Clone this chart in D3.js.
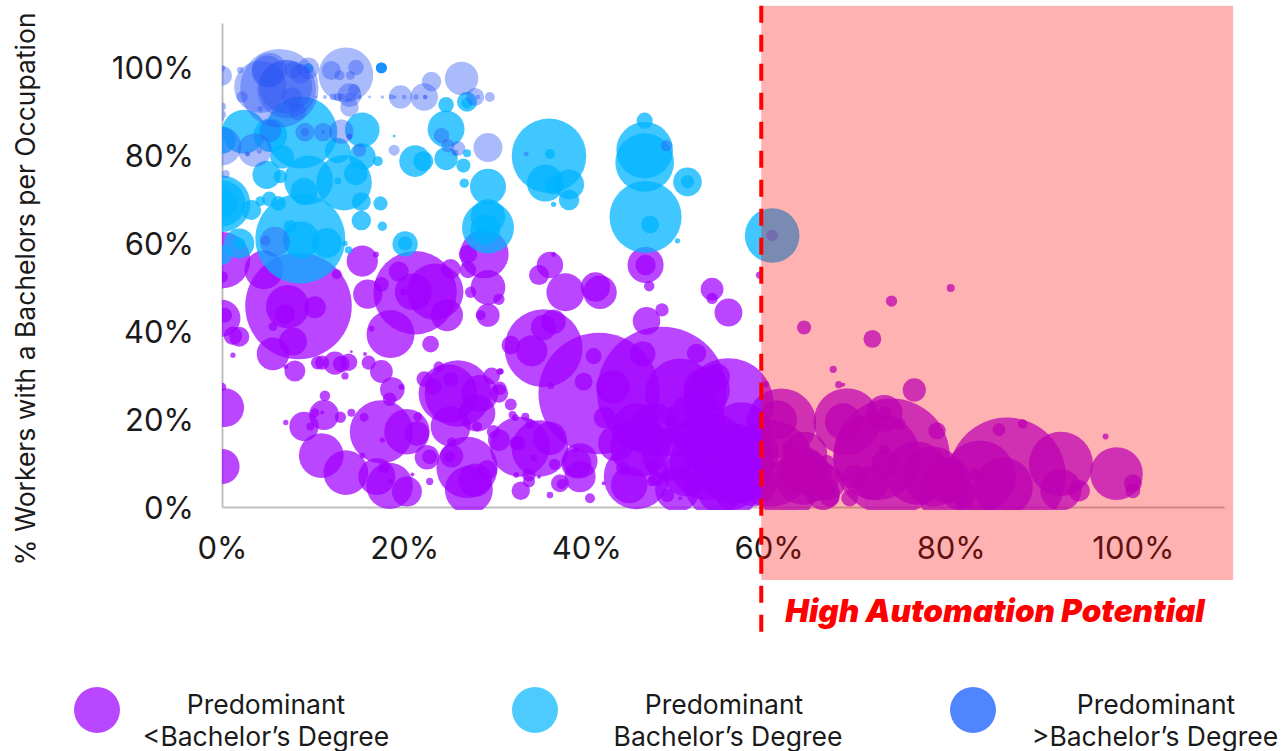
<!DOCTYPE html>
<html>
<head>
<meta charset="utf-8">
<script src="https://cdn.jsdelivr.net/npm/d3@7"></script>
<style>
  html, body { margin: 0; padding: 0; background: #fff; }
  svg { display: block; }
  text { font-family: Inter, "Noto Sans", sans-serif; fill: #1a1a1a; }
  .domain { stroke: #bfbfbf; stroke-width: 2px; }
  .tick text { font-size: 31px; }
</style>
</head>
<body>
<div id="chart"></div>
<script>
var xTicks = [0, 20, 40, 60, 80, 100];
var yTicks = [0, 20, 40, 60, 80, 100];
var yTitle = "% Workers with a Bachelors per Occupation";
var noteLabel = "High Automation Potential";
var legendLabels = [
  ["Predominant", "<Bachelor\u2019s Degree"],
  ["Predominant", "Bachelor\u2019s Degree"],
  ["Predominant", ">Bachelor\u2019s Degree"]
];

// [automation %, bachelors %, workers]
var lessThanBachelors = [
  [8.4,45.7,2840],[7.2,45.5,470],[6.9,43.8,100],[10.2,45.4,120],[7.8,37.6,195],[5.6,34.8,265],[5.6,41,20],[4.6,53.9,375],
  [0,56.1,800],[0,52.3,36],[0,42.9,340],[0.3,43.6,55],[1.2,38.9,85],[1.9,38.7,100],[1.2,34.5,7],[0,27.3,18],[0.3,22.6,375],[0,9.2,310],
  [15.4,55.9,245],[16.9,57.4,9],[12.6,52.9,25],[16,48.4,215],[17.5,50.6,55],[21.2,48.7,1740],[23.4,48.9,800],[21,48.9,340],[19.4,53.5,100],
  [25.1,54.1,100],[24.7,43.6,255],[18.5,39.3,575],[16.4,40.5,9],[19.9,48.8,11],[22.9,37,70],[27,53.9,70],[29.2,49.9,300],[28.8,57.5,590],
  [27,57.5,85],[27.3,48.8,32],[30.4,47.2,32],[29.2,43.6,135],[28.4,43.6,25],
  [8,30.9,110],[7,31.9,6],[10.5,32.8,45],[11,32.8,50],[12.4,32.7,135],[13.9,32.9,75],[13.1,32.5,70],[13.5,29.8,13],[14.2,35.3,2],[15.7,34.8,4],
  [16.1,32.8,50],[17.5,30.8,130],[18.7,26.7,150],[19.7,27.3,9],[18.4,24.5,45],[11.3,25.3,28],[11.2,20.9,225],[10.2,21.4,20],[11,21.5,4],
  [13,20.4,32],[14.2,21.4,16],[9,18.3,215],[9.7,18.3,16],[7,19.2,7],[10.9,11.7,500],[13.6,7.8,500],[17.5,17.1,1000],[20.3,17.1,515],[21.4,16.7,150],
  [21.5,20.5,20],[15.6,20.4,20],[17.6,15.2,7],[15.4,11.7,9],[17,6.9,340],[18.4,4.8,540],[20.3,3.5,225],[17.8,9,32],[18.5,5.9,7],[20.9,7.4,4],
  [22.8,5.8,13],[22.5,11.3,150],[22.8,11.4,55],[26.9,9,940],[27.1,3.9,575],[27.8,6.1,280],[29.1,8.4,100],[25.2,11.6,135],[25,11.4,32],[25.2,14.8,20],
  [25.9,25.8,1110],[24.8,25.8,860],[25.1,18.3,400],[28.3,25.8,340],[28,21.3,335],[23.2,27.3,70],[22.2,29.1,60],[25.1,29,55],[23.8,31.9,28],
  [29.6,29.8,70],[30.5,30.8,11],[30.4,25.8,85],[30.5,27,45],[31.7,23.3,36],[31.9,20.9,16],[32.2,20.3,11],[32.7,13.7,900],[30.4,15.2,120],
  [29.8,17.1,45],[32.3,14.5,45],[32.3,7.3,8],[32.8,3.7,85],[28,18.3,25],
  [36,55,175],[34.8,52.7,100],[36.4,57.4,6],[37.7,48.8,360],[41,50,215],[41.5,48.8,280],[46.5,55,325],[46.5,55,105],[46.9,50.2,28],[53.8,49.5,130],
  [53.8,47.4,32],[55.6,44.2,195],[59,52.7,13],[46.6,42.3,190],[48.3,44.8,45],[35.3,36.1,1520],[35.3,40.8,160],[36.4,42.1,150],[34,35.5,245],
  [31.7,36.8,85],[30.6,30.8,9],[36.1,27.5,11],[41.4,25.8,3680],[40.8,34.3,65],[39.7,28.5,80],[48.3,26.2,4225],[46.2,34.8,160],[52.1,34.9,95],
  [55.6,23.6,2025],[50.3,25.8,1225],[53.2,26.6,545],[54.3,29.6,180],[42.9,27.3,280],[42,20.3,115],[43.3,14.5,335],[45.5,18.3,545],[45.5,6.9,1070],
  [44.7,5,335],[45.9,13.7,900],[47.7,6.5,55],[50,15.2,22],[50.3,12.2,11],[51,7.7,545],[48.9,2.6,45],[53.2,9.9,1345],[56.2,9.9,1600],[55,6.1,1600],
  [34.9,13.3,800],[36,15.6,280],[32.5,14.5,55],[34.2,11.1,11],[36.5,9.7,32],[39.3,10.5,310],[38.9,9.9,225],[39.3,6.9,245],[37.1,5.4,80],[37.3,5.2,25],
  [33.7,7.3,45],[33.7,5.8,36],[36,2.7,11],[40.4,2,25],[34.8,6.9,4],[41.9,5.4,4],[33.3,20.5,16],[33.8,18.9,20],[59.7,27.9,11],[38.9,13,7],
  [47.2,5.8,25],[47.2,9.2,32],[44,8.8,45],[50.3,2,4],[56.1,3.9,400],[54.7,3.9,540],[58.3,5.4,540],[52.5,16,540],
  [52,19,900],[57,17,900],[54,14,1000],[49,12,700],[50,4,500],[47.5,18,600],[58,12,800],
  [80,49.8,16],[73.5,46.8,32],[63.9,40.8,50],[71.4,38.2,80],[67.1,31.3,13],[67.7,27.8,13],[68.2,27.8,4],[76,26.6,135],[61.4,19,1225],[61,19.8,375],
  [68.6,19.4,1110],[68.2,19.4,335],[72.7,21.3,335],[72.8,21.3,45],[73.5,11.4,3400],[71.9,11.4,1880],[78.5,17.3,75],[74.4,18.9,32],[72.7,13.1,25],
  [86.2,7,3440],[83.2,6.9,1300],[85.8,4.6,860],[92.1,9.8,1025],[92.1,3.9,430],[94.1,3.7,115],[98.2,7.6,695],[100,5.4,80],[100,3.7,55],[97,16,9],
  [85.3,17.6,40],[87.9,18.9,22],[82.7,7.5,36],[76.3,7.7,1000],[78.1,6.9,900],[79.6,6.1,540],[79.2,2.7,625],[80.9,3.1,280],[72.8,9.9,180],
  [69.5,6.9,135],[71.3,5.4,280],[68.9,2,70],[66,3.1,280],[66.7,2.3,100],[66.4,9.9,70],[63.8,6.9,800],[63.8,8.4,540],[62.2,13.7,45],[60.2,9.9,1880],
  [65.5,6,400],[62,4,900],[66.5,5.5,300],[64,12,500]
];

var bachelors = [
  [8.7,85.1,1300],[2.4,85.3,480],[5.3,84.5,280],[15.4,85.7,300],[12.7,81,160],[15.4,79.6,180],[17.1,78.6,25],[6.6,79.6,140],[13.4,73.7,770],
  [9.5,74.3,600],[4.9,75.5,200],[6.4,75.1,45],[14.7,75.8,140],[12.7,74.1,12],[9,71.7,180],[15.3,69.4,90],[17.4,69,50],[15.3,65.1,95],[17.6,63.8,22],
  [8.6,61,2020],[8.7,60.7,340],[11.5,60,225],[7.5,63.7,45],[6.2,69,55],[5.2,70,55],[4.2,69.5,25],[3.2,67.5,100],[0,68.9,800],[0,69,540],[0,69,225],
  [0,83.4,190],[1.9,59.9,225],[1.9,59.9,36],[0,57.3,100],[24.6,85.9,340],[24.6,91.4,60],[21.2,78.6,250],[22.1,78.6,100],[24.6,79.2,135],[26.5,77.6,50],
  [26.6,73.6,22],[29.2,72.8,325],[29.2,63.5,675],[29.2,66,300],[28.9,63,225],[20.1,59.8,160],[20.1,59.9,50],[18.9,84.3,2],[13.9,58.4,14],[13.5,59.9,7],
  [26.9,92.1,100],[26.9,91.8,30],[26.9,80.4,16],[17.5,99.8,30],[17.5,99.8,30],[9.5,99.7,25],
  [35.9,79.8,1390],[35.5,73.6,340],[38.1,73.3,225],[38.1,69.8,105],[36.4,73.2,85],[36,80.2,25],[36.4,68.8,7],[46.4,81.1,800],[46.4,78.3,860],
  [46.4,87.8,65],[51.1,73.9,205],[51.1,73.9,45],[46.5,65.9,1300],[47,64.2,80],[50,60.5,7],[60.4,61.7,745]
];

var moreThanBachelors = [
  [6.3,95.2,1540],[5.2,99.3,300],[7.1,95,860],[4.2,95.5,680],[7.7,93.1,100],[7.8,99.3,70],[9.5,99.7,115],[8.6,98.4,100],[13.6,98.2,750],[12,99.2,90],
  [5,99,250],[7,95.5,700],
  [14.7,99.9,60],[14,93.6,140],[14,90.8,85],[12.9,98.1,25],[14.1,98.1,20],[17.5,99.8,30],[14.5,94.8,35],[19.6,93.2,135],[22.2,93.2,190],
  [23,96.7,95],[26.3,97.4,280],[27.8,93.2,80],[29.4,93.2,25],
  [10.3,93.2,2],[11.3,93.2,4],[12.2,93.2,11],[12.7,93.2,16],[13.1,93.2,11],[13.9,93.2,16],[14.5,93.2,7],[15.1,93.2,5],[16.2,93.2,2],[17.6,93.2,3],
  [18.6,93.2,7],[19,93.2,3],[20,93.2,5],[21.3,93.2,7],[22.3,93.2,5],[28.1,93.2,5],[22.3,93.2,5],
  [0,98,100],[0,99.7,10],[0,91,16],[0,89.2,16],[0,88.1,4],[0,82,370],[3.6,81.1,280],[2.8,80.2,6],[2.8,80.2,6],[4.1,80.9,7],[2.2,93.2,32],[4.2,90.5,8],
  [0.4,75.7,16],[2,99.3,11],[13.1,85.3,150],[14,84.2,8],[14,84.2,8],[9.1,85.2,90],[9.1,85.2,16],[11.1,85.2,85],[11.1,85.2,4],[5.3,85.5,120],[8.3,89.8,70],
  [15.1,81.1,45],[24.1,84.4,60],[24.8,82.1,45],[25.9,81.5,55],[25.6,80.5,11],[29.2,81.7,210],[18.9,81.1,30],[5.8,60.3,225],[4.8,60.5,25],
  [33.4,80.2,6],[48.8,82.1,32],[60.4,61.7,32]
];

var svgWidth = 1281;
var svgHeight = 751;

var margin = {
  top: 23,
  right: 57,
  bottom: 244,
  left: 222
};

var width = svgWidth - margin.left - margin.right;
var height = svgHeight - margin.top - margin.bottom;

var svg = d3.select("#chart").append("svg")
  .attr("width", svgWidth)
  .attr("height", svgHeight);

var xScale = d3.scaleLinear().domain([0, 110]).range([0, width]);
var yScale = d3.scaleLinear().domain([0, 110]).range([height, 0]);
var rScale = d3.scaleSqrt().domain([0, 4900]).range([0, 70]);

var chartGroup = svg.append("g")
  .attr("transform", `translate(${margin.left}, ${margin.top})`);

svg.append("defs").append("clipPath")
  .attr("id", "plot-clip")
  .append("rect")
  .attr("x", 0)
  .attr("y", -margin.top)
  .attr("width", svgWidth - margin.left)
  .attr("height", height + margin.top + 3);

// axes go under the bubbles
var bottomAxis = d3.axisBottom(xScale).tickValues(xTicks).tickFormat(d => d + "%").tickSize(0).tickPadding(30);
var leftAxis = d3.axisLeft(yScale).tickValues(yTicks).tickFormat(d => d + "%").tickSize(0).tickPadding(28);

chartGroup.append("g")
  .attr("transform", `translate(0, ${height})`)
  .call(bottomAxis);

chartGroup.append("g")
  .call(leftAxis)
  .selectAll("text")
  .attr("dy", "0.36em");

function drawSeries(data, color, opacity) {
  chartGroup.append("g")
    .attr("clip-path", "url(#plot-clip)")
    .selectAll("circle")
    .data(data.slice().sort((a, b) => b[2] - a[2]))
    .enter()
    .append("circle")
    .attr("cx", d => xScale(d[0]))
    .attr("cy", d => yScale(d[1]))
    .attr("r", d => rScale(d[2]))
    .attr("fill", color)
    .attr("fill-opacity", opacity);
}

drawSeries(lessThanBachelors, "#a000ff", 0.72);
drawSeries(bachelors, "#00b4ff", 0.75);
drawSeries(moreThanBachelors, "#2a55f5", 0.4);

// high automation zone
var zoneStart = 59.2;
var zoneEnd = 111;
var zoneTop = 113.9;
var zoneBottom = -16.6;
var lineBottom = -29.7;

chartGroup.append("rect")
  .attr("x", xScale(zoneStart))
  .attr("y", yScale(zoneTop))
  .attr("width", xScale(zoneEnd) - xScale(zoneStart))
  .attr("height", yScale(zoneBottom) - yScale(zoneTop))
  .attr("fill", "#ff0000")
  .attr("fill-opacity", 0.3);

chartGroup.append("line")
  .attr("x1", xScale(zoneStart))
  .attr("x2", xScale(zoneStart))
  .attr("y1", yScale(zoneTop))
  .attr("y2", yScale(lineBottom))
  .attr("stroke", "#ff0000")
  .attr("stroke-width", 4)
  .attr("stroke-dasharray", "17,12");

svg.append("text")
  .attr("x", 995)
  .attr("y", 622)
  .attr("text-anchor", "middle")
  .style("font-size", "31.5px")
  .style("font-weight", 900)
  .style("font-style", "italic")
  .style("fill", "#ff0000")
  .text(noteLabel);

svg.append("text")
  .attr("transform", "rotate(-90)")
  .attr("x", -289)
  .attr("y", 35)
  .attr("text-anchor", "middle")
  .style("font-size", "26.5px")
  .text(yTitle);

// legend
var legendColors = ["#b847ff", "#4dcbff", "#4f85ff"];
var legendDotX = [97, 535, 973];
var legendTextX = [[266, 266], [724, 728], [1156, 1155]];

legendLabels.forEach(function(lines, i) {
  svg.append("circle")
    .attr("cx", legendDotX[i])
    .attr("cy", 710)
    .attr("r", 23)
    .attr("fill", legendColors[i]);

  lines.forEach(function(line, j) {
    svg.append("text")
      .attr("x", legendTextX[i][j])
      .attr("y", 714 + j * 32)
      .attr("text-anchor", "middle")
      .style("font-size", "26.5px")
      .text(line);
  });
});
</script>
</body>
</html>
